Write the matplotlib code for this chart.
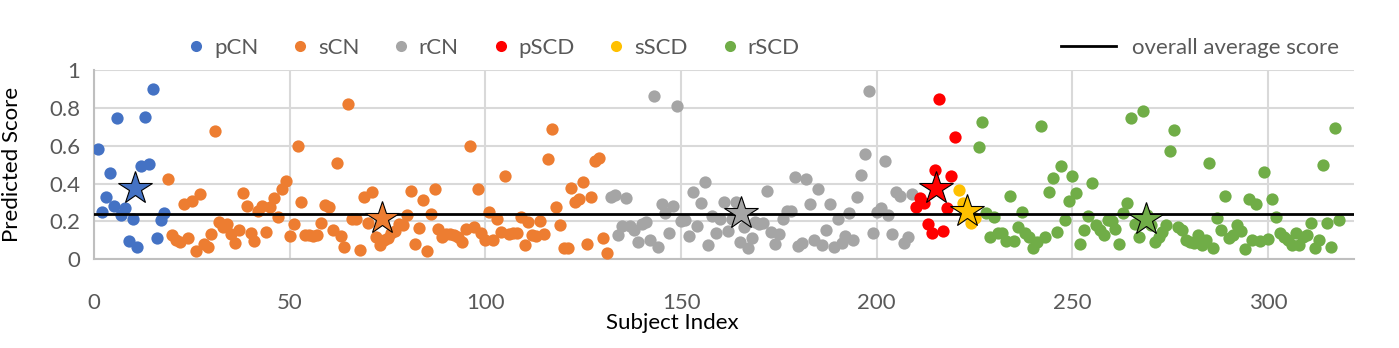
import matplotlib
matplotlib.use("Agg")
import matplotlib.pyplot as plt
from matplotlib.lines import Line2D
import numpy as np


# group names and colours (Excel default palette)
GROUPS = ["pCN", "sCN", "rCN", "pSCD", "sSCD", "rSCD"]
COLORS = ["#4472C4", "#ED7D31", "#A5A5A5", "#FF0000", "#FFC000", "#70AD47"]

# predicted scores per group, subjects numbered consecutively from 1
pcn = [0.584, 0.25, 0.329, 0.457, 0.283, 0.748, 0.234, 0.271, 0.095, 0.211,
       0.065, 0.493, 0.753, 0.503, 0.899, 0.113, 0.208, 0.246]

scn = [0.422, 0.130, 0.10, 0.091, 0.294, 0.114, 0.31, 0.046, 0.347, 0.083,
       0.063, 0.134, 0.679, 0.195, 0.172, 0.185, 0.134, 0.088, 0.155, 0.348,
       0.283, 0.137, 0.097, 0.257, 0.281, 0.146, 0.278, 0.324, 0.225, 0.371,
       0.413, 0.125, 0.186, 0.60, 0.304, 0.127, 0.13, 0.123, 0.127, 0.19,
       0.285, 0.278, 0.155, 0.51, 0.125, 0.067, 0.821, 0.211, 0.211, 0.049,
       0.331, 0.193, 0.354, 0.12, 0.076, 0.102, 0.111, 0.137, 0.15, 0.186,
       0.181, 0.234, 0.362, 0.079, 0.167, 0.315, 0.046, 0.237, 0.369, 0.16,
       0.12, 0.134, 0.132, 0.127, 0.12, 0.093, 0.158, 0.60, 0.172, 0.373,
       0.141, 0.102, 0.252, 0.102, 0.211, 0.146, 0.441, 0.134, 0.141, 0.141,
       0.225, 0.074, 0.199, 0.127, 0.123, 0.204, 0.134, 0.531, 0.69, 0.278,
       0.183, 0.062, 0.062, 0.378, 0.304, 0.317, 0.41, 0.079, 0.331, 0.519,
       0.533, 0.114, 0.032]

rcn = [0.327, 0.338, 0.128, 0.176, 0.322, 0.178, 0.155, 0.09, 0.186, 0.195,
       0.1, 0.86, 0.067, 0.292, 0.243, 0.137, 0.281, 0.811, 0.2, 0.208,
       0.125, 0.357, 0.176, 0.299, 0.41, 0.074, 0.229, 0.137, 0.213, 0.304,
       0.151, 0.211, 0.304, 0.093, 0.172, 0.062, 0.114, 0.199, 0.186, 0.19,
       0.362, 0.144, 0.079, 0.134, 0.211, 0.257, 0.257, 0.436, 0.072, 0.088,
       0.422, 0.292, 0.102, 0.373, 0.076, 0.155, 0.29, 0.063, 0.213, 0.084,
       0.125, 0.243, 0.102, 0.327, 0.445, 0.554, 0.89, 0.137, 0.25, 0.269,
       0.521, 0.236, 0.134, 0.357, 0.334, 0.088, 0.12, 0.345]

pscd = [0.278, 0.325, 0.296, 0.186, 0.141, 0.471, 0.848, 0.151, 0.269,
        0.441, 0.647]

sscd = [0.366, 0.296, 0.25, 0.19, 0.22]

rscd = [0.595, 0.726, 0.243, 0.116, 0.225, 0.137, 0.137, 0.097, 0.334, 0.098,
        0.172, 0.252, 0.137, 0.12, 0.058, 0.093, 0.705, 0.12, 0.355, 0.427,
        0.144, 0.493, 0.208, 0.31, 0.44, 0.352, 0.081, 0.155, 0.23, 0.405,
        0.181, 0.155, 0.128, 0.208, 0.202, 0.162, 0.079, 0.243, 0.299, 0.748,
        0.186, 0.116, 0.783, 0.234, 0.18, 0.093, 0.12, 0.146, 0.181, 0.573,
        0.683, 0.172, 0.155, 0.102, 0.093, 0.084, 0.128, 0.076, 0.102, 0.51,
        0.062, 0.216, 0.155, 0.334, 0.114, 0.128, 0.181, 0.151, 0.055, 0.317,
        0.102, 0.292, 0.098, 0.461, 0.107, 0.317, 0.225, 0.137, 0.116, 0.102,
        0.074, 0.141, 0.074, 0.12, 0.128, 0.193, 0.062, 0.102, 0.498, 0.193,
        0.067, 0.695, 0.208]

# group average markers (stars)
star_x = [10.5, 73.7, 165.4, 215.1, 223.1, 268.7]
star_y = [0.378, 0.216, 0.243, 0.375, 0.255, 0.211]

overall_avg = 0.241

X_TICKS = [0, 50, 100, 150, 200, 250, 300]
Y_TICKS = [0, 0.2, 0.4, 0.6, 0.8, 1.0]
Y_TICK_LABELS = ["0", "0.2", "0.4", "0.6", "0.8", "1"]

plt.rcParams["font.family"] = ["Lato", "DejaVu Sans"]

fig = plt.figure(figsize=(13.99, 3.48), dpi=100)
ax = fig.add_axes([0.0672, 0.255, 0.9008, 0.544])

series = [pcn, scn, rcn, pscd, sscd, rscd]
start = 1
for vals, col in zip(series, COLORS):
    idx = np.arange(start, start + len(vals))
    ax.scatter(idx, vals, s=78, color=col, linewidths=0, zorder=3)
    start += len(vals)

ax.axhline(overall_avg, color="black", linewidth=2.0, zorder=4)

for sx, sy, col in zip(star_x, star_y, COLORS):
    ax.plot(sx, sy, marker="*", markersize=25, color=col,
            markeredgecolor="black", markeredgewidth=0.8, zorder=5)

ax.set_xlim(0, 322)
ax.set_ylim(0, 1)
ax.set_xticks(X_TICKS)
ax.set_yticks(Y_TICKS)
ax.set_yticklabels(Y_TICK_LABELS)
ax.grid(True, color="#d9d9d9", linewidth=1.5, zorder=0)
ax.set_axisbelow(True)
for side in ["top", "right"]:
    ax.spines[side].set_visible(False)
for side in ["left", "bottom"]:
    ax.spines[side].set_color("#bfbfbf")
    ax.spines[side].set_linewidth(1.5)
ax.tick_params(length=0, labelsize=16, labelcolor="#595959")
ax.tick_params(axis="x", pad=24)
ax.tick_params(axis="y", pad=10)

ax.set_xlabel("Subject Index", fontsize=16, color="black")
ax.xaxis.set_label_coords(0.459, -0.285)
ax.set_ylabel("Predicted Score", fontsize=16, color="black")
ax.yaxis.set_label_coords(-0.057, 0.5)

# legends along the top
handles = [Line2D([], [], marker="o", linestyle="none", markersize=8,
                  markerfacecolor=c, markeredgewidth=0) for c in COLORS]
leg1 = fig.legend(handles, GROUPS, loc="center left",
                  bbox_to_anchor=(0.126, 0.862), ncol=6, frameon=False,
                  fontsize=16, labelcolor="#595959", handletextpad=0.3,
                  columnspacing=1.38, handlelength=1.0, borderaxespad=0)
line_handle = [Line2D([], [], color="black", linewidth=2.0)]
leg2 = fig.legend(line_handle, ["overall average score"], loc="center left",
                  bbox_to_anchor=(0.752, 0.862), frameon=False, fontsize=16,
                  labelcolor="#595959", handlelength=2.5, handletextpad=0.7,
                  borderaxespad=0)

fig.savefig("out.png", dpi=100)
